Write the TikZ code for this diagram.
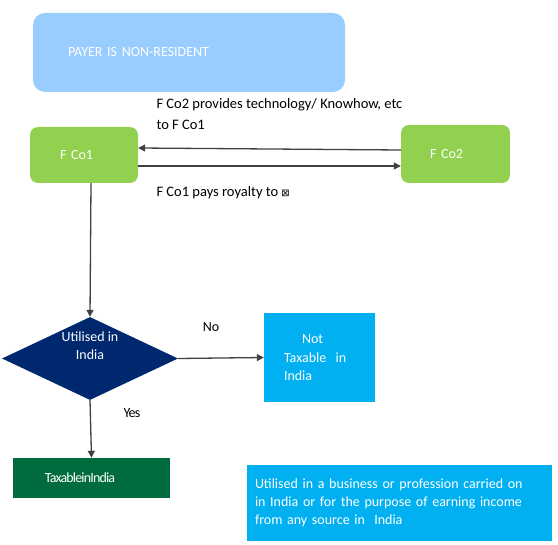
\documentclass[tikz,border=0pt]{standalone}
\usepackage{fontspec}
\setmainfont{Carlito}
\newfontfamily\symfont{DejaVu Sans}
\usetikzlibrary{shapes, arrows, positioning, calc}
\usetikzlibrary{arrows.meta}

\definecolor{payerblue}{RGB}{153,204,255}
\definecolor{cogreen}{RGB}{146,208,80}
\definecolor{navy}{RGB}{0,40,110}
\definecolor{skyblue}{RGB}{0,176,240}
\definecolor{darkgreen}{RGB}{0,107,60}
\definecolor{linegray}{RGB}{64,64,64}

\begin{document}
\begin{tikzpicture}[
    x=1pt, y=-1pt,
    font=\fontsize{14}{18}\selectfont,
    block/.style={rectangle, fill=cogreen, text=white, rounded corners=8pt, align=left, inner ysep=0pt},
    sqblock/.style={rectangle, fill=skyblue, text=white, align=left, inner ysep=0pt},
    decision/.style={diamond, fill=navy, inner sep=0pt, minimum width=176pt, minimum height=83pt},
    line/.style={draw=linegray, line width=1.3pt, -{Triangle[length=7pt,width=7pt]}}
]
\useasboundingbox (0,0) rectangle (558,545);

% Nodes
\node [block, fill=payerblue, rounded corners=12pt, minimum width=312pt, minimum height=79pt,
       text width=242pt, inner xsep=35pt] (payer) at (189,52.5) {PAYER IS NON-RESIDENT};
\node [block, minimum width=108pt, minimum height=56pt, text width=48pt, inner xsep=30pt] (fco1) at (84,155) {F Co1};
\node [block, minimum width=109pt, minimum height=58pt, text width=51pt, inner xsep=29pt] (fco2) at (455.5,154) {F Co2};
\node [decision] (util) at (90,358.5) {};
\node [text=white, align=center] (utiltext) at (90,346) {Utilised in\\India};
\node [sqblock, minimum width=111pt, minimum height=89pt, text width=71pt, inner xsep=20pt] (nottax) at (319.5,357.5)
      {\hspace*{18pt}Not\\[1pt]Taxable\ \ in\\India};
\node [sqblock, fill=darkgreen, minimum width=157pt, minimum height=40pt, text width=125pt, inner xsep=16pt] (tax) at (91.5,478)
      {\hspace*{16pt}{\addfontfeature{LetterSpace=-6}TaxableinIndia}};
\node [sqblock, minimum width=303pt, minimum height=76pt, text width=289pt, inner xsep=8pt] (cond) at (399.5,503)
      {Utilised in a business or profession carried on\\in India or for the purpose of earning income\\from any source in\ \ India};

% Lines
\path [line] ([yshift=4pt]fco2.west) -- ([yshift=7pt]fco1.east);
\path [line] ([yshift=-11pt]fco1.east) -- ([yshift=-12pt]fco2.west);
\path [line] ([xshift=7pt]fco1.south) -- (util.north);
\path [line] (util.east) -- (nottax.west);
\path [line] (util.south) -- (tax.north);

% Labels
\node [anchor=west, align=left, font=\fontsize{14.5}{21}\selectfont] (provides) at (153,114.5)
      {F Co2 provides technology/ Knowhow, etc\\to F Co1};
\node [anchor=west, font=\fontsize{14.5}{18}\selectfont] (pays) at (153,193)
      {F Co1 pays royalty to {\symfont\fontsize{10}{10}\selectfont ⊠}};
\node (no) at (211,327) {No};
\node (yes) at (132,413) {\addfontfeature{LetterSpace=-6}Yes};

\end{tikzpicture}
\end{document}
